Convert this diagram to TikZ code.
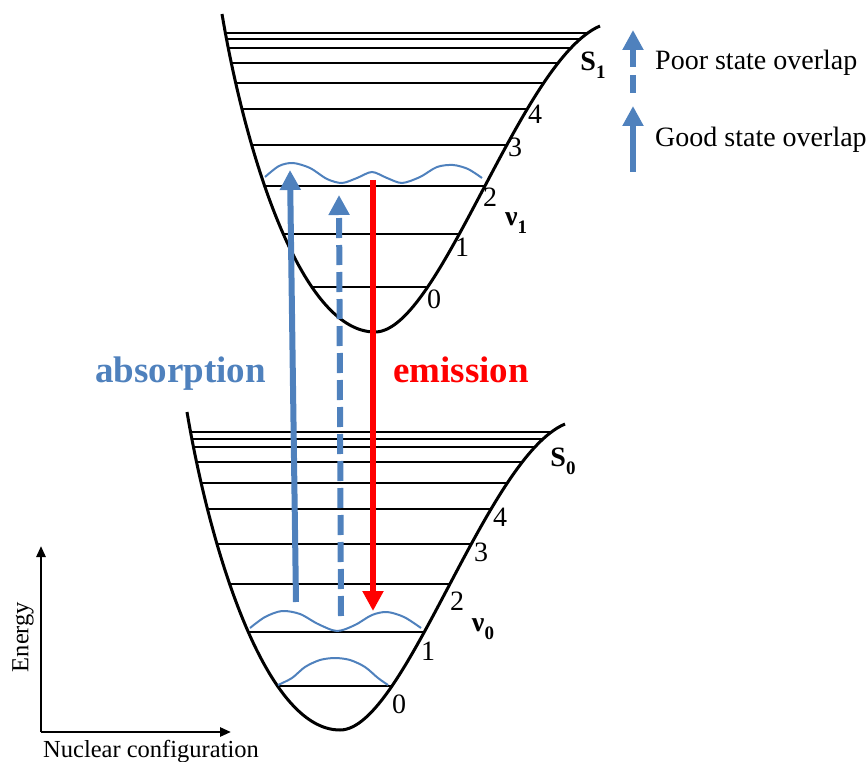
\documentclass[tikz,border=0pt]{standalone}
\usepackage{fontspec}
\setmainfont{Liberation Serif}
\usetikzlibrary{arrows.meta}
\definecolor{oblue}{RGB}{79,129,189}
\definecolor{ored}{RGB}{255,0,0}
\newcommand\statelab[2]{\textbf{#1}\raisebox{-0.28em}{\fontsize{19}{19}\selectfont\textbf{#2}}}
\begin{document}
\begin{tikzpicture}[x=1pt,y=-1pt,
  well/.style={insert path={(222,14) .. controls (245,150) and (300,332) .. (375,332) .. controls (440,332) and (520,60) .. (600,26)}},
  curve/.style={line width=3pt, black},
  level/.style={line width=1.1pt, black},
  wave/.style={oblue, line width=2pt},
  bigarrow/.style={line width=6pt, -{Triangle[width=20pt,length=20pt]}},
  axis/.style={line width=2.5pt, -{Triangle[width=9pt,length=11pt]}},
  num/.style={font=\fontsize{28}{30}\selectfont, inner sep=0pt},
  legtext/.style={font=\fontsize{28}{30}\selectfont, inner sep=0pt, anchor=base west},
  biglab/.style={font=\fontsize{37}{40}\selectfont\bfseries, inner sep=0pt, anchor=base west},
  axlab/.style={font=\fontsize{24.5}{26}\selectfont, inner sep=0pt}]
\useasboundingbox (0,0) rectangle (868,762);

% ---------- upper well S1 ----------
\begin{scope}
  \begin{scope}
    \clip[well] -- (620,0) -- (200,0) -- cycle;
    \foreach \y in {33,39,48,63,83,109,145,186,234,287}
      \draw[level] (200,\y) -- (620,\y);
  \end{scope}
  \draw[curve, well];
\end{scope}

% ---------- lower well S0 ----------
\begin{scope}[shift={(-35,398)}]
  \begin{scope}
    \clip[well] -- (620,0) -- (200,0) -- cycle;
    \foreach \y in {34,41,49,64,85,111,146,186,234,288}
      \draw[level] (200,\y) -- (620,\y);
  \end{scope}
  \draw[curve, well];
\end{scope}

% ---------- wavefunctions ----------
\draw[wave] plot[smooth] coordinates {(265,177) (279,166) (293,163) (310,168) (327,179) (342,183) (357,178) (372,172) (387,178) (402,183) (420,177) (437,167) (453,165) (468,169) (482,178)};
\draw[wave] plot[smooth] coordinates {(250,628) (265,617) (282,611) (300,614) (318,624) (337,631) (355,625) (372,615) (387,612) (404,617) (421,628)};
\draw[wave] plot[smooth] coordinates {(278,685) (292,678) (305,667) (320,660) (335,658) (350,660) (365,667) (378,678) (388,685)};

% ---------- transitions ----------
\coordinate (absA) at (296,602);
\coordinate (absB) at (290,170);
\coordinate (dshA) at (341,616);
\coordinate (dshB) at (339,195);
\coordinate (emA) at (373,180);
\coordinate (emB) at (373,611);
\draw[bigarrow, oblue] (absA) -- (absB);
\draw[bigarrow, oblue, dash pattern=on 20pt off 7pt] (dshA) -- (dshB);
\draw[bigarrow, ored] (emA) -- (emB);

\node[biglab, text=oblue] (absorption) at (95,382) {absorption};
\node[biglab, text=ored] (emission) at (393,382) {emission};

% ---------- level numbers ----------
\node[num] (u0) at (434,299) {0};
\node[num] (u1) at (462,247) {1};
\node[num] (u2) at (490,197) {2};
\node[num] (u3) at (515,147) {3};
\node[num] (u4) at (535,114) {4};
\node[num] (l0) at (399,704) {0};
\node[num] (l1) at (428,651) {1};
\node[num] (l2) at (457,601) {2};
\node[num] (l3) at (481,552) {3};
\node[num] (l4) at (500,517) {4};

\node[num] (S1) at (593,65) {\statelab{S}{1}};
\node[num] (S0) at (563,461) {\statelab{S}{0}};
\node[num] (nu1) at (516,223) {\statelab{ν}{1}};
\node[num] (nu0) at (483,629) {\statelab{ν}{0}};

% ---------- legend ----------
\coordinate (lgA) at (633,93);
\coordinate (lgB) at (633,30);
\coordinate (lgC) at (633,172);
\coordinate (lgD) at (633,106);
\draw[bigarrow, oblue, dash pattern=on 18pt off 8pt] (lgA) -- (lgB);
\draw[bigarrow, oblue] (lgC) -- (lgD);
\node[legtext] (poor) at (655,70) {Poor state overlap};
\node[legtext] (good) at (655,147) {Good state overlap};

% ---------- axes ----------
\coordinate (orig) at (41,732);
\coordinate (ytop) at (41,546);
\coordinate (xend) at (231,732);
\draw[axis] (orig) -- (ytop);
\draw[axis] (orig) -- (xend);
\node[axlab, rotate=90] (energy) at (23,637) {Energy};
\node[axlab, anchor=base west] (nucl) at (43,757) {Nuclear configuration};
\end{tikzpicture}
\end{document}
